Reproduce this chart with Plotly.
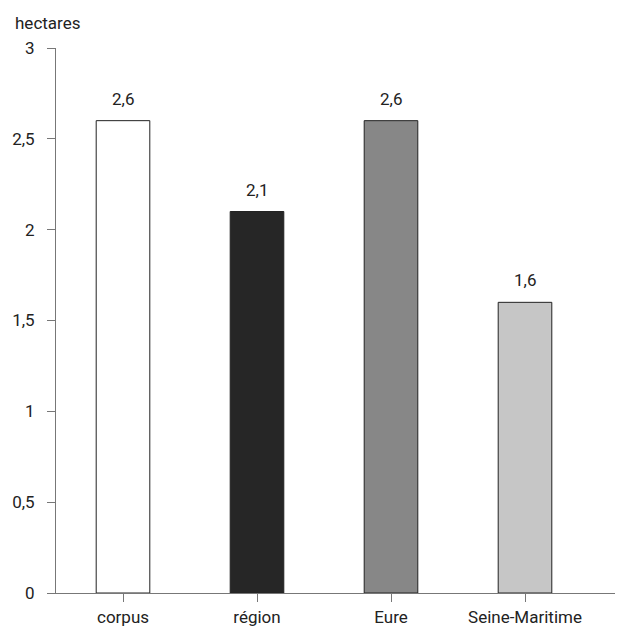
import plotly.graph_objects as go

categories = ["corpus", "région", "Eure", "Seine-Maritime"]
values = [2.6, 2.1, 2.6, 1.6]
value_labels = ["2,6", "2,1", "2,6", "1,6"]
bar_colors = ["#ffffff", "#262626", "#878787", "#c6c6c6"]
y_ticks = [0, 0.5, 1, 1.5, 2, 2.5, 3]
y_tick_labels = ["0", "0,5", "1", "1,5", "2", "2,5", "3"]

FONT = "Roboto, Liberation Sans, sans-serif"

# page offset (body margin) compensation
OFF = 8
W, H = 623 - OFF, 626 - OFF
ml, mr, mt = 56 - OFF, 0, 47.5 - OFF
ph = 546
mb = H - mt - ph
pw = W - ml - mr
band = 134.0

fig = go.Figure()
fig.add_trace(go.Bar(
    x=list(range(len(categories))),
    y=values,
    width=0.4,
    marker=dict(color=bar_colors, line=dict(color="#222222", width=1)),
    hoverinfo="skip",
))

for i, (v, lab) in enumerate(zip(values, value_labels)):
    fig.add_annotation(x=i, y=v, text=lab, showarrow=False,
                       yanchor="bottom", yshift=10,
                       font=dict(family=FONT, size=17, color="#222222"))

fig.add_annotation(x=(13 - OFF - ml) / pw, y=(H - mb - (22 - OFF)) / ph,
                   xref="paper", yref="paper", text="hectares",
                   showarrow=False, xanchor="left", yanchor="middle",
                   font=dict(family=FONT, size=17, color="#222222"))

fig.update_layout(
    width=W, height=H,
    margin=dict(l=ml, r=mr, t=mt, b=mb, pad=0),
    paper_bgcolor="white", plot_bgcolor="white",
    showlegend=False,
    separators=", ",
    font=dict(family=FONT, size=17, color="#222222"),
    xaxis=dict(
        tickmode="array",
        tickvals=list(range(len(categories))),
        ticktext=categories,
        tickson="boundaries",
        ticks="outside", ticklen=8, tickcolor="#777777", tickwidth=1,
        range=[-0.5, -0.5 + pw / band],
        showline=True, linecolor="#777777", linewidth=1,
        showgrid=False, zeroline=False,
        ticklabelstandoff=1,
        tickfont=dict(family=FONT, size=17, color="#222222"),
    ),
    yaxis=dict(
        range=[0, 3],
        tickmode="array", tickvals=y_ticks, ticktext=y_tick_labels,
        ticks="outside", ticklen=8, tickcolor="#777777", tickwidth=1,
        showline=True, linecolor="#777777", linewidth=1,
        showgrid=False, zeroline=False,
        ticklabelstandoff=9,
        tickfont=dict(family=FONT, size=17, color="#222222"),
    ),
)

fig.write_html("out.html")
